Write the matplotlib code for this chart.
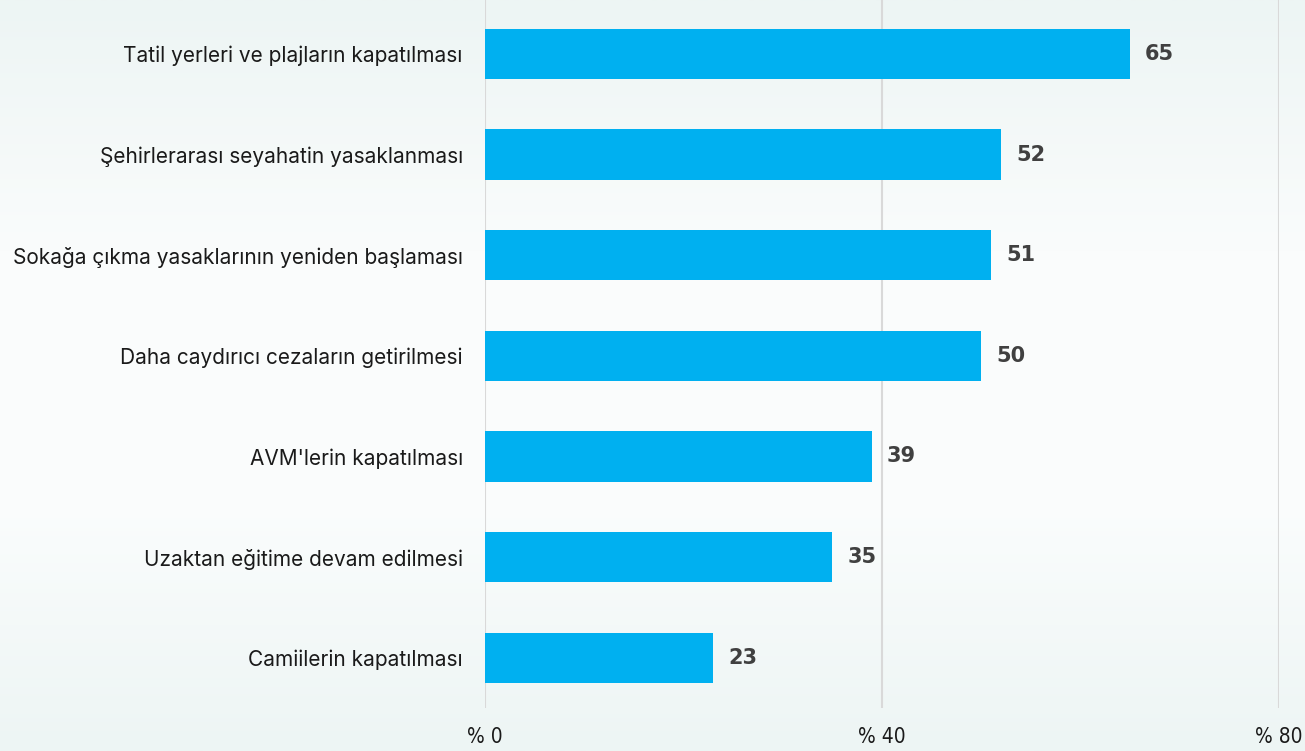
import numpy as np
import matplotlib.pyplot as plt
from matplotlib.colors import LinearSegmentedColormap

categories = [
    "Tatil yerleri ve plajların kapatılması",
    "Şehirlerarası seyahatin yasaklanması",
    "Sokağa çıkma yasaklarının yeniden başlaması",
    "Daha caydırıcı cezaların getirilmesi",
    "AVM'lerin kapatılması",
    "Uzaktan eğitime devam edilmesi",
    "Camiilerin kapatılması",
]
values = [65, 52, 51, 50, 39, 35, 23]
ticks = [0, 40, 80]
tick_labels = ["% 0", "% 40", "% 80"]

fig = plt.figure(figsize=(13.05, 7.51), dpi=100)

# soft vertical background gradient
bg = fig.add_axes([0, 0, 1, 1], zorder=-10)
cmap = LinearSegmentedColormap.from_list(
    "bg", ["#edf5f4", "#fafcfc", "#fbfdfd", "#edf5f4"])
grad = np.linspace(0, 1, 256).reshape(-1, 1)
bg.imshow(grad, aspect="auto", cmap=cmap, extent=[0, 1, 0, 1], origin="upper")
bg.axis("off")

ax = fig.add_axes([485 / 1305, 1 - 708 / 751, (1279 - 485) / 1305, 708 / 751])
ax.patch.set_alpha(0)

y = np.arange(len(categories))
ax.barh(y, values, height=0.5, color="#00b0f0", zorder=3)

for yi, v in zip(y, values):
    ax.text(v + 1.5, yi, str(v), va="center", ha="left", fontsize=15,
            fontweight="black", color="#404040", family="DejaVu Sans")

ax.set_xlim(0, 80)
ax.set_ylim(6.5, -0.537)
ax.set_xticks(ticks)
ax.set_xticklabels(tick_labels, family="DejaVu Sans", stretch="condensed",
                   fontsize=15, color="#1a1a1a")
ax.tick_params(axis="x", length=0, pad=14)
ax.set_yticks(y)
ax.set_yticklabels(categories, family="Inter", fontsize=15, color="#1a1a1a")
ax.tick_params(axis="y", length=0, pad=16)

ax.grid(axis="x", color="#d9d9d9", linewidth=1.5, zorder=0)
for s in ax.spines.values():
    s.set_visible(False)

fig.savefig("out.png", dpi=100)
